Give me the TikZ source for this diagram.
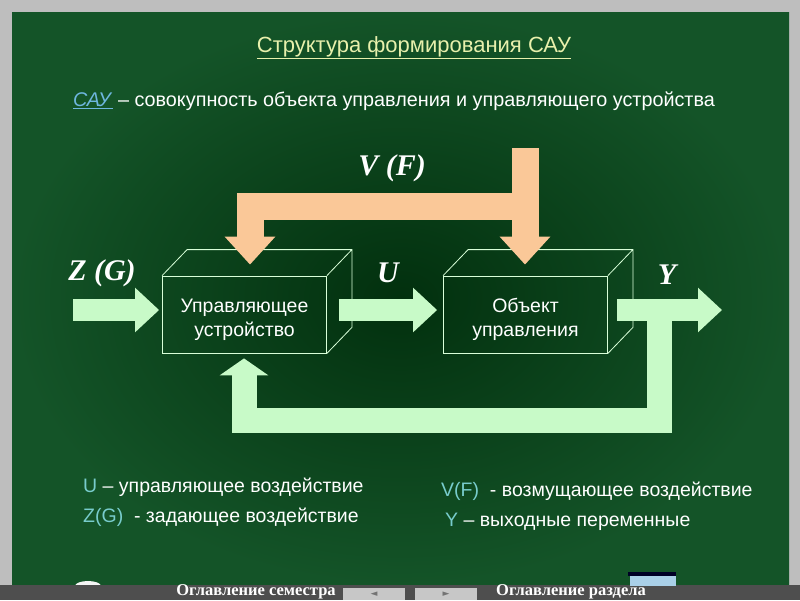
\documentclass[tikz,border=0pt]{standalone}
\usepackage{fontspec}
\setmainfont{Liberation Sans}
\newfontfamily\labelfont{Liberation Serif}
\newfontfamily\symfont{DejaVu Sans}
\usetikzlibrary{arrows.meta,calc}

\definecolor{framegray}{RGB}{190,190,190}
\definecolor{bargray}{RGB}{78,78,78}
\definecolor{boardcentre}{RGB}{2,48,14}
\definecolor{boardedge}{RGB}{20,84,40}
\definecolor{mint}{RGB}{200,250,200}
\definecolor{peach}{RGB}{250,200,152}
\definecolor{titleyellow}{RGB}{232,240,172}
\definecolor{saublue}{RGB}{110,182,222}
\definecolor{legendteal}{RGB}{120,204,204}
\definecolor{eraserblue}{RGB}{170,208,232}

\newcommand{\boxstrut}{\rule{0pt}{25pt}}

\tikzset{
  box/.style={draw=white!85!green, line width=0.8pt, minimum width=164pt,
    minimum height=77pt, inner sep=0pt, align=center, text=white,
    font=\fontsize{19.5}{24}\selectfont},
  boxline/.style={draw=white!85!green, line width=0.8pt},
  flowarrow/.style={mint, line width=22pt, line join=miter,
    -{Triangle[width=43pt,length=24pt]}},
  fbarrow/.style={mint, line width=25pt, line join=miter,
    -{Triangle[width=48pt,length=17pt]}},
  distarrow/.style={peach, line width=27pt, line join=miter,
    -{Triangle[width=49pt,length=28pt]}},
  siglabel/.style={text=white, font=\labelfont\bfseries\itshape\fontsize{30}{32}\selectfont},
  legend/.style={anchor=west, text=white, inner sep=0pt,
    font=\fontsize{19.5}{22}\selectfont},
  navtext/.style={text=white, inner sep=0pt,
    font=\labelfont\bfseries\fontsize{16.5}{17}\selectfont},
  navbtn/.style={fill=black!22, minimum width=62pt, minimum height=12pt,
    inner sep=0pt, text=black!55, font=\symfont\fontsize{9}{9}\selectfont}
}

\begin{document}
\begin{tikzpicture}[x=1pt,y=-1pt]
    % Frame, board and bottom bar
    \fill[framegray] (0,0) rectangle (800,600);
    \shade[inner color=boardcentre, outer color=boardedge] (12,12) rectangle (789,585);
    \fill[white!92!gray] (88,586) ellipse (13 and 5);
    \fill[bargray] (0,585) rectangle (800,600);
    \fill[black!85!blue] (628,572) rectangle (676,576);
    \fill[eraserblue] (630,576) rectangle (676,586);

    % Define the texts
    \node[text=titleyellow, font=\fontsize{22}{26}\selectfont] (title) at (414,48) {\underline{Структура формирования САУ}};
    \node[text=white, font=\fontsize{19.8}{24}\selectfont] (defn) at (394,101) {\textcolor{saublue}{\underline{\textit{САУ}}} – совокупность объекта управления и управляющего устройства};

    % Define the blocks
    \node[box] (ctrl) at (244.5,314.5) {\boxstrut Управляющее\\устройство};
    \node[box] (obj) at (525.5,314.5) {\boxstrut Объект\\управления};
    \foreach \b in {ctrl,obj}
      \draw[boxline] (\b.north west) -- ++(25,-26) -| ($(\b.south east)+(25,-26)$) -- (\b.south east)
                     (\b.north east) -- ++(25,-26);

    % Define the signal labels
    \node[siglabel] (lblV) at (392,168) {V (F)};
    \node[siglabel] (lblZ) at (102,273) {Z (G)};
    \node[siglabel] (lblU) at (388,273) {U};
    \node[siglabel] (lblY) at (667,275) {Y};

    % Free ends of the arrows
    \coordinate (zin) at (73,310);
    \coordinate (yout) at (722,310);
    \coordinate (vin) at (525,148);
    \coordinate (vfork) at (525,206);
    \coordinate (fbstart) at (659,310);

    % Draw the arrows
    \draw[flowarrow] (zin) -- ($(ctrl.west |- zin)+(-3,0)$);
    \draw[flowarrow] ($(ctrl.east |- zin)+(12,0)$) -- ($(obj.west |- zin)+(-6,0)$);
    \draw[flowarrow] ($(obj.east |- zin)+(9,0)$) -- (yout);
    \draw[fbarrow] (fbstart) -- (659,420.5) -| ($(ctrl.south)+(-0.5,5)$);
    \draw[distarrow] (vin) -- (vfork) -| ($(ctrl.north)+(5.5,-11)$);
    \draw[distarrow] (vfork) -- ($(obj.north)+(-0.5,-11)$);

    % Define the legend
    \node[legend] (legU) at (83,487) {\textcolor{legendteal}{U} – управляющее воздействие};
    \node[legend] (legZ) at (83,517) {\textcolor{legendteal}{Z(G)}\ \ - задающее воздействие};
    \node[legend] (legV) at (441,491) {\textcolor{legendteal}{V(F)}\ \ - возмущающее воздействие};
    \node[legend] (legY) at (445,522) {\textcolor{legendteal}{Y} – выходные переменные};

    % Navigation bar
    \node[navtext] (semtoc) at (256,592) {Оглавление семестра};
    \node[navbtn] (prevbtn) at (374,594) {◄};
    \node[navbtn] (nextbtn) at (446,594) {►};
    \node[navtext] (sectoc) at (571,592) {Оглавление раздела};
\end{tikzpicture}
\end{document}
